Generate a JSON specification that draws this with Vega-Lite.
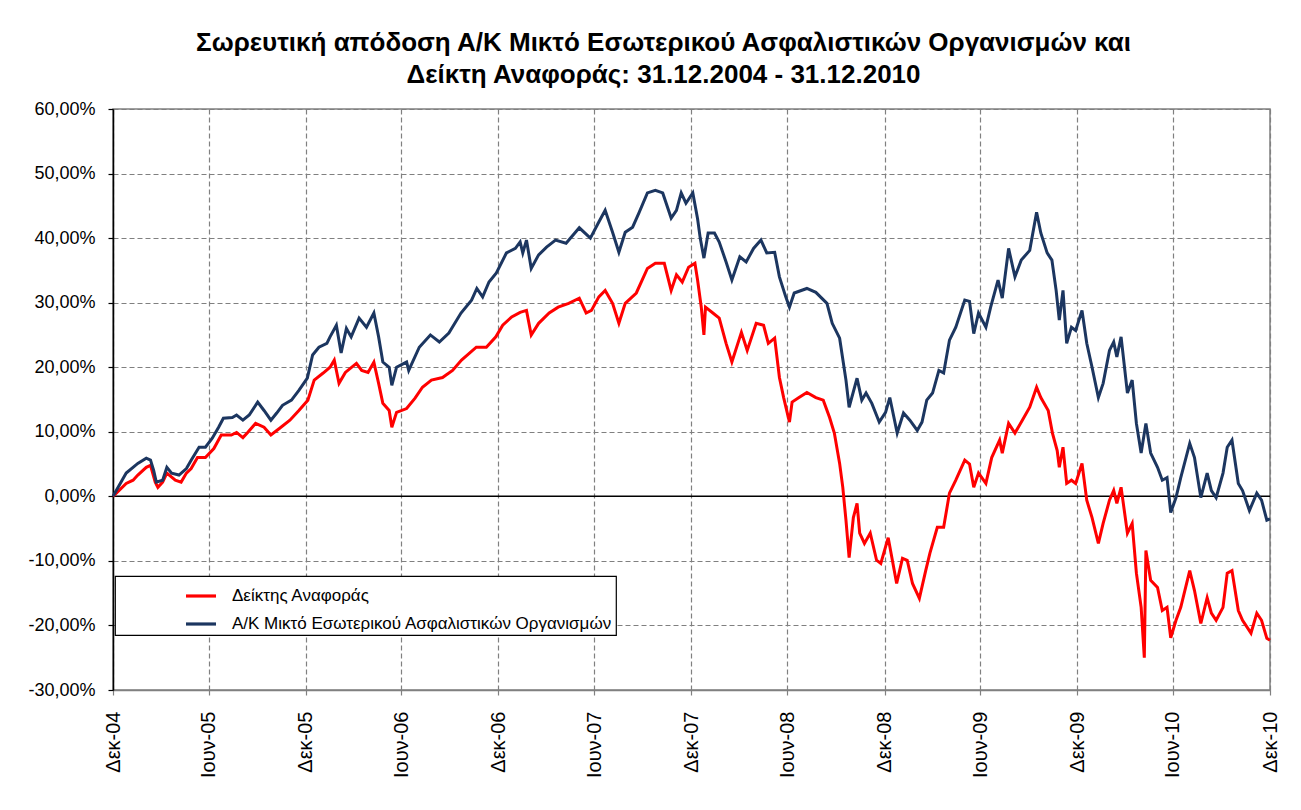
{
  "$schema": "https://vega.github.io/schema/vega-lite/v6.json",
  "autosize": "none",
  "width": 1157,
  "height": 581,
  "padding": {"left": 113, "top": 109, "right": 31, "bottom": 120},
  "background": "#ffffff",
  "title": {
    "text": ["Σωρευτική απόδοση Α/Κ Μικτό Εσωτερικού Ασφαλιστικών Οργανισμών και", "Δείκτη Αναφοράς: 31.12.2004 - 31.12.2010"],
    "font": "Liberation Sans",
    "fontSize": 26,
    "fontWeight": "bold",
    "color": "#000000",
    "anchor": "middle",
    "dx": -28,
    "offset": 12,
    "lineHeight": 32
  },
  "config": {
    "view": {"stroke": "#808080", "strokeWidth": 1.5},
    "axis": {"labelFont": "Liberation Sans", "labelColor": "#000000"},
    "legend": {
      "orient": "none",
      "legendX": 2,
      "legendY": 467,
      "strokeColor": "#000000",
      "strokeWidth": 1.2,
      "fillColor": "#ffffff",
      "padding": 3,
      "symbolType": "stroke",
      "symbolSize": 900,
      "symbolStrokeWidth": 3.2,
      "symbolOffset": 66,
      "labelFont": "Liberation Sans",
      "labelFontSize": 17,
      "labelColor": "#000000",
      "labelOffset": 14,
      "labelLimit": 700,
      "rowPadding": 3
    }
  },
  "datasets": {
    "bench": [
      {"date":"2004-12-31","value":0},{"date":"2005-01-25","value":2.0},{"date":"2005-02-07","value":2.5},{"date":"2005-02-16","value":3.3},{"date":"2005-03-04","value":4.5},{"date":"2005-03-12","value":4.8},{"date":"2005-03-21","value":2.2},{"date":"2005-03-26","value":1.4},{"date":"2005-04-04","value":2.2},{"date":"2005-04-12","value":3.6},{"date":"2005-04-28","value":2.5},{"date":"2005-05-09","value":2.2},{"date":"2005-05-19","value":3.6},{"date":"2005-05-28","value":4.3},{"date":"2005-06-09","value":6.0},{"date":"2005-06-24","value":6.0},{"date":"2005-07-10","value":7.4},{"date":"2005-07-24","value":9.5},{"date":"2005-08-12","value":9.5},{"date":"2005-08-22","value":9.9},{"date":"2005-09-03","value":9.1},{"date":"2005-09-12","value":9.9},{"date":"2005-09-27","value":11.3},{"date":"2005-10-13","value":10.7},{"date":"2005-10-26","value":9.5},{"date":"2005-11-11","value":10.5},{"date":"2005-12-01","value":11.8},{"date":"2005-12-18","value":13.3},
      {"date":"2006-01-04","value":14.9},{"date":"2006-01-16","value":18.0},{"date":"2006-02-02","value":19.1},{"date":"2006-02-15","value":20.0},{"date":"2006-02-23","value":21.1},{"date":"2006-03-04","value":17.5},{"date":"2006-03-16","value":19.2},{"date":"2006-04-06","value":20.6},{"date":"2006-04-16","value":19.5},{"date":"2006-04-28","value":19.2},{"date":"2006-05-09","value":20.8},{"date":"2006-05-18","value":17.5},{"date":"2006-05-26","value":14.4},{"date":"2006-06-07","value":13.3},{"date":"2006-06-12","value":10.7},{"date":"2006-06-21","value":13.0},{"date":"2006-07-10","value":13.6},{"date":"2006-07-26","value":15.2},{"date":"2006-08-09","value":16.9},{"date":"2006-08-26","value":18.0},{"date":"2006-09-16","value":18.4},{"date":"2006-10-05","value":19.5},{"date":"2006-10-22","value":21.1},{"date":"2006-11-19","value":23.1},{"date":"2006-12-08","value":23.1},{"date":"2006-12-26","value":24.7},
      {"date":"2007-01-08","value":26.5},{"date":"2007-01-25","value":27.8},{"date":"2007-02-10","value":28.5},{"date":"2007-02-22","value":28.8},{"date":"2007-03-03","value":25.0},{"date":"2007-03-17","value":26.8},{"date":"2007-04-06","value":28.4},{"date":"2007-04-23","value":29.3},{"date":"2007-05-13","value":29.9},{"date":"2007-06-02","value":30.7},{"date":"2007-06-15","value":28.4},{"date":"2007-06-25","value":28.8},{"date":"2007-07-09","value":30.9},{"date":"2007-07-21","value":31.9},{"date":"2007-08-04","value":29.9},{"date":"2007-08-16","value":26.8},{"date":"2007-08-28","value":29.9},{"date":"2007-09-18","value":31.5},{"date":"2007-10-09","value":35.3},{"date":"2007-10-24","value":36.1},{"date":"2007-11-10","value":36.1},{"date":"2007-11-23","value":31.9},{"date":"2007-12-03","value":34.3},{"date":"2007-12-14","value":33.2},{"date":"2007-12-26","value":35.5},
      {"date":"2008-01-07","value":36.1},{"date":"2008-01-12","value":33.5},{"date":"2008-01-19","value":29.3},{"date":"2008-01-24","value":25.0},{"date":"2008-01-27","value":29.3},{"date":"2008-02-10","value":28.4},{"date":"2008-02-22","value":27.6},{"date":"2008-03-06","value":23.7},{"date":"2008-03-17","value":20.8},{"date":"2008-04-04","value":25.4},{"date":"2008-04-15","value":22.6},{"date":"2008-05-02","value":26.8},{"date":"2008-05-16","value":26.5},{"date":"2008-05-25","value":23.7},{"date":"2008-06-06","value":24.5},{"date":"2008-06-15","value":18.4},{"date":"2008-06-23","value":15.3},{"date":"2008-07-04","value":11.5},{"date":"2008-07-09","value":14.6},{"date":"2008-07-22","value":15.3},{"date":"2008-08-06","value":16.1},{"date":"2008-08-23","value":15.3},{"date":"2008-09-06","value":14.9},{"date":"2008-09-18","value":12.2},{"date":"2008-09-27","value":9.8},{"date":"2008-10-07","value":5.1},{"date":"2008-10-13","value":1.4},{"date":"2008-10-19","value":-3.7},{"date":"2008-10-25","value":-9.5},{"date":"2008-11-02","value":-3.3},{"date":"2008-11-09","value":-1.1},{"date":"2008-11-14","value":-5.7},{"date":"2008-11-23","value":-7.3},{"date":"2008-12-04","value":-5.7},{"date":"2008-12-16","value":-9.9},{"date":"2008-12-24","value":-10.4},
      {"date":"2009-01-07","value":-6.4},{"date":"2009-01-23","value":-13.5},{"date":"2009-02-03","value":-9.6},{"date":"2009-02-12","value":-9.9},{"date":"2009-02-22","value":-13.5},{"date":"2009-03-07","value":-15.8},{"date":"2009-03-19","value":-11.5},{"date":"2009-03-27","value":-8.8},{"date":"2009-04-10","value":-4.8},{"date":"2009-04-22","value":-4.8},{"date":"2009-05-03","value":0.5},{"date":"2009-05-15","value":2.5},{"date":"2009-06-01","value":5.6},{"date":"2009-06-10","value":5.0},{"date":"2009-06-18","value":1.4},{"date":"2009-06-27","value":3.6},{"date":"2009-07-11","value":2.0},{"date":"2009-07-22","value":6.0},{"date":"2009-08-06","value":8.7},{"date":"2009-08-11","value":6.7},{"date":"2009-08-23","value":11.3},{"date":"2009-09-04","value":9.8},{"date":"2009-09-18","value":11.8},{"date":"2009-10-02","value":13.8},{"date":"2009-10-15","value":16.9},{"date":"2009-10-23","value":15.3},{"date":"2009-11-06","value":13.3},{"date":"2009-11-14","value":9.8},{"date":"2009-11-23","value":7.1},{"date":"2009-11-27","value":4.5},{"date":"2009-12-04","value":7.6},{"date":"2009-12-11","value":2.0},{"date":"2009-12-20","value":2.5},{"date":"2009-12-28","value":2.0},
      {"date":"2010-01-09","value":5.1},{"date":"2010-01-18","value":-0.6},{"date":"2010-01-28","value":-3.3},{"date":"2010-02-09","value":-7.3},{"date":"2010-02-18","value":-4.2},{"date":"2010-03-02","value":-0.6},{"date":"2010-03-10","value":0.9},{"date":"2010-03-16","value":-1.1},{"date":"2010-03-24","value":1.4},{"date":"2010-04-05","value":-5.7},{"date":"2010-04-14","value":-4.2},{"date":"2010-04-22","value":-11.9},{"date":"2010-05-01","value":-17.2},{"date":"2010-05-07","value":-25.0},{"date":"2010-05-10","value":-8.4},{"date":"2010-05-19","value":-13.0},{"date":"2010-06-01","value":-14.1},{"date":"2010-06-10","value":-17.7},{"date":"2010-06-19","value":-17.2},{"date":"2010-06-26","value":-21.9},{"date":"2010-07-06","value":-19.2},{"date":"2010-07-15","value":-17.2},{"date":"2010-08-01","value":-11.5},{"date":"2010-08-10","value":-14.6},{"date":"2010-08-22","value":-19.7},{"date":"2010-09-03","value":-15.7},{"date":"2010-09-11","value":-18.1},{"date":"2010-09-20","value":-19.2},{"date":"2010-10-03","value":-17.2},{"date":"2010-10-11","value":-11.9},{"date":"2010-10-20","value":-11.5},{"date":"2010-11-01","value":-17.7},{"date":"2010-11-09","value":-19.2},{"date":"2010-11-25","value":-21.2},{"date":"2010-12-06","value":-18.1},{"date":"2010-12-15","value":-19.2},{"date":"2010-12-25","value":-22.0},{"date":"2010-12-31","value":-22.3}
    ],
    "fund": [
      {"date":"2004-12-31","value":0},{"date":"2005-01-25","value":3.6},{"date":"2005-02-16","value":5.1},{"date":"2005-03-04","value":5.9},{"date":"2005-03-12","value":5.6},{"date":"2005-03-18","value":4.0},{"date":"2005-03-23","value":2.2},{"date":"2005-04-04","value":2.5},{"date":"2005-04-12","value":4.5},{"date":"2005-04-21","value":3.6},{"date":"2005-05-05","value":3.3},{"date":"2005-05-19","value":4.3},{"date":"2005-05-28","value":5.6},{"date":"2005-06-12","value":7.6},{"date":"2005-06-24","value":7.6},{"date":"2005-07-07","value":9.0},{"date":"2005-07-19","value":10.7},{"date":"2005-07-28","value":12.1},{"date":"2005-08-14","value":12.2},{"date":"2005-08-22","value":12.6},{"date":"2005-09-03","value":11.8},{"date":"2005-09-15","value":12.6},{"date":"2005-10-01","value":14.6},{"date":"2005-10-13","value":13.3},{"date":"2005-10-26","value":11.8},{"date":"2005-11-06","value":12.9},{"date":"2005-11-17","value":14.1},{"date":"2005-12-04","value":14.9},{"date":"2005-12-18","value":16.4},
      {"date":"2006-01-03","value":18.3},{"date":"2006-01-13","value":21.9},{"date":"2006-01-25","value":23.1},{"date":"2006-02-09","value":23.7},{"date":"2006-02-15","value":24.7},{"date":"2006-02-27","value":26.5},{"date":"2006-03-08","value":22.2},{"date":"2006-03-18","value":26.0},{"date":"2006-03-27","value":24.7},{"date":"2006-04-11","value":27.6},{"date":"2006-04-25","value":26.2},{"date":"2006-05-09","value":28.4},{"date":"2006-05-18","value":24.7},{"date":"2006-05-26","value":20.8},{"date":"2006-06-07","value":20.0},{"date":"2006-06-12","value":17.2},{"date":"2006-06-21","value":20.0},{"date":"2006-07-10","value":20.8},{"date":"2006-07-14","value":19.5},{"date":"2006-08-03","value":23.1},{"date":"2006-08-24","value":25.0},{"date":"2006-09-10","value":23.9},{"date":"2006-09-28","value":25.3},{"date":"2006-10-21","value":28.4},{"date":"2006-11-10","value":30.4},{"date":"2006-11-20","value":32.2},{"date":"2006-12-01","value":30.9},{"date":"2006-12-13","value":33.2},{"date":"2006-12-27","value":34.6},
      {"date":"2007-01-15","value":37.7},{"date":"2007-02-01","value":38.4},{"date":"2007-02-10","value":39.4},{"date":"2007-02-15","value":37.7},{"date":"2007-02-22","value":39.7},{"date":"2007-03-03","value":35.3},{"date":"2007-03-17","value":37.4},{"date":"2007-04-01","value":38.6},{"date":"2007-04-18","value":39.7},{"date":"2007-05-08","value":39.2},{"date":"2007-06-02","value":41.6},{"date":"2007-06-23","value":40.0},{"date":"2007-07-09","value":42.5},{"date":"2007-07-21","value":44.3},{"date":"2007-08-04","value":40.9},{"date":"2007-08-16","value":37.8},{"date":"2007-08-28","value":40.9},{"date":"2007-09-11","value":41.7},{"date":"2007-09-23","value":43.9},{"date":"2007-10-09","value":47.0},{"date":"2007-10-24","value":47.4},{"date":"2007-11-07","value":47.0},{"date":"2007-11-23","value":43.1},{"date":"2007-12-03","value":44.3},{"date":"2007-12-12","value":47.0},{"date":"2007-12-21","value":45.4},
      {"date":"2008-01-03","value":47.0},{"date":"2008-01-12","value":43.0},{"date":"2008-01-17","value":40.0},{"date":"2008-01-24","value":36.9},{"date":"2008-02-01","value":40.8},{"date":"2008-02-13","value":40.8},{"date":"2008-02-22","value":39.4},{"date":"2008-03-06","value":36.3},{"date":"2008-03-17","value":33.5},{"date":"2008-04-01","value":37.1},{"date":"2008-04-13","value":36.3},{"date":"2008-04-27","value":38.4},{"date":"2008-05-11","value":39.7},{"date":"2008-05-22","value":37.7},{"date":"2008-06-06","value":37.8},{"date":"2008-06-15","value":34.0},{"date":"2008-06-27","value":30.9},{"date":"2008-07-04","value":29.3},{"date":"2008-07-13","value":31.5},{"date":"2008-08-06","value":32.2},{"date":"2008-08-23","value":31.6},{"date":"2008-09-13","value":29.9},{"date":"2008-09-23","value":26.8},{"date":"2008-10-07","value":24.5},{"date":"2008-10-19","value":18.0},{"date":"2008-10-25","value":13.8},{"date":"2008-11-09","value":18.3},{"date":"2008-11-18","value":14.9},{"date":"2008-11-26","value":16.0},{"date":"2008-12-07","value":14.4},{"date":"2008-12-21","value":11.5},
      {"date":"2009-01-02","value":13.0},{"date":"2009-01-10","value":15.3},{"date":"2009-01-24","value":9.8},{"date":"2009-02-05","value":12.9},{"date":"2009-02-17","value":11.8},{"date":"2009-03-03","value":10.2},{"date":"2009-03-12","value":11.5},{"date":"2009-03-21","value":14.9},{"date":"2009-04-01","value":16.0},{"date":"2009-04-13","value":19.5},{"date":"2009-04-22","value":19.1},{"date":"2009-05-03","value":24.2},{"date":"2009-05-15","value":26.2},{"date":"2009-06-01","value":30.4},{"date":"2009-06-10","value":30.2},{"date":"2009-06-18","value":25.2},{"date":"2009-06-27","value":28.4},{"date":"2009-07-11","value":26.2},{"date":"2009-07-20","value":29.3},{"date":"2009-08-03","value":33.5},{"date":"2009-08-11","value":30.7},{"date":"2009-08-23","value":38.4},{"date":"2009-09-04","value":34.0},{"date":"2009-09-16","value":36.6},{"date":"2009-10-02","value":38.1},{"date":"2009-10-15","value":44.0},{"date":"2009-10-23","value":40.8},{"date":"2009-11-04","value":37.7},{"date":"2009-11-13","value":36.6},{"date":"2009-11-21","value":31.9},{"date":"2009-11-27","value":27.3},{"date":"2009-12-04","value":31.9},{"date":"2009-12-11","value":23.7},{"date":"2009-12-20","value":26.2},{"date":"2009-12-28","value":25.7},
      {"date":"2010-01-09","value":28.8},{"date":"2010-01-18","value":23.7},{"date":"2010-01-28","value":20.0},{"date":"2010-02-09","value":15.3},{"date":"2010-02-18","value":17.5},{"date":"2010-03-02","value":22.6},{"date":"2010-03-10","value":23.9},{"date":"2010-03-16","value":21.6},{"date":"2010-03-24","value":24.7},{"date":"2010-04-05","value":16.0},{"date":"2010-04-14","value":18.0},{"date":"2010-04-22","value":11.3},{"date":"2010-05-01","value":6.7},{"date":"2010-05-10","value":11.3},{"date":"2010-05-19","value":6.7},{"date":"2010-06-01","value":4.5},{"date":"2010-06-10","value":2.5},{"date":"2010-06-19","value":2.9},{"date":"2010-06-26","value":-2.5},{"date":"2010-07-06","value":-0.2},{"date":"2010-07-15","value":2.9},{"date":"2010-08-01","value":8.2},{"date":"2010-08-10","value":6.0},{"date":"2010-08-22","value":-0.2},{"date":"2010-09-03","value":3.6},{"date":"2010-09-11","value":0.9},{"date":"2010-09-20","value":-0.2},{"date":"2010-10-03","value":3.6},{"date":"2010-10-11","value":7.6},{"date":"2010-10-20","value":8.7},{"date":"2010-11-01","value":2.0},{"date":"2010-11-09","value":0.9},{"date":"2010-11-22","value":-2.2},{"date":"2010-12-06","value":0.5},{"date":"2010-12-15","value":-0.6},{"date":"2010-12-25","value":-3.7},{"date":"2010-12-31","value":-3.5}
    ]
  },
  "layer": [
    {
      "data": {"values": [{}]},
      "mark": {"type": "rule", "color": "#000000", "strokeWidth": 1.5},
      "encoding": {"y": {"datum": 0, "type": "quantitative"}}
    },
    {
      "data": {"name": "bench"},
      "mark": {"type": "line", "strokeWidth": 3, "interpolate": "linear"},
      "encoding": {
        "x": {
          "field": "date", "type": "temporal",
          "scale": {"type": "utc", "domain": [{"year": 2004, "month": 12, "date": 31, "utc": true}, {"year": 2010, "month": 12, "date": 31, "utc": true}]},
          "axis": {
            "title": null,
            "values": [
              {"year": 2004, "month": 12, "date": 31, "utc": true},
              {"year": 2005, "month": 6, "date": 30, "utc": true},
              {"year": 2005, "month": 12, "date": 31, "utc": true},
              {"year": 2006, "month": 6, "date": 30, "utc": true},
              {"year": 2006, "month": 12, "date": 31, "utc": true},
              {"year": 2007, "month": 6, "date": 30, "utc": true},
              {"year": 2007, "month": 12, "date": 31, "utc": true},
              {"year": 2008, "month": 6, "date": 30, "utc": true},
              {"year": 2008, "month": 12, "date": 31, "utc": true},
              {"year": 2009, "month": 6, "date": 30, "utc": true},
              {"year": 2009, "month": 12, "date": 31, "utc": true},
              {"year": 2010, "month": 6, "date": 30, "utc": true},
              {"year": 2010, "month": 12, "date": 31, "utc": true}
            ],
            "labelExpr": "(utcmonth(datum.value) == 11 ? 'Δεκ-' : 'Ιουν-') + utcFormat(datum.value, '%y')",
            "labelAngle": -90,
            "labelFontSize": 20,
            "labelPadding": 16,
            "labelBound": false,
            "labelOverlap": false,
            "labelFlush": false,
            "grid": true,
            "gridColor": "#808080",
            "gridDash": [5, 3],
            "gridWidth": 1.2,
            "domainColor": "#808080",
            "domainWidth": 1.5,
            "tickColor": "#808080",
            "tickSize": 5,
            "tickWidth": 1.2
          }
        },
        "y": {
          "field": "value", "type": "quantitative",
          "scale": {"domain": [-30, 60], "nice": false, "zero": false},
          "axis": {
            "title": null,
            "values": [-30, -20, -10, 0, 10, 20, 30, 40, 50, 60],
            "labelExpr": "(datum.value < 0 ? '-' : '') + replace(format(abs(datum.value), '.2f'), '.', ',') + '%'",
            "labelFontSize": 18,
            "labelPadding": 13,
            "grid": true,
            "gridColor": "#808080",
            "gridDash": [5, 3],
            "gridWidth": 1.2,
            "domainColor": "#000000",
            "domainWidth": 1.5,
            "tickColor": "#000000",
            "tickSize": 5,
            "tickWidth": 1.2
          }
        },
        "color": {
          "datum": "Δείκτης Αναφοράς",
          "type": "nominal",
          "scale": {"domain": ["Δείκτης Αναφοράς", "Α/Κ Μικτό Εσωτερικού Ασφαλιστικών Οργανισμών"], "range": ["#ff0000", "#1c3660"]},
          "legend": {"title": null}
        }
      }
    },
    {
      "data": {"name": "fund"},
      "mark": {"type": "line", "strokeWidth": 3, "interpolate": "linear"},
      "encoding": {
        "x": {"field": "date", "type": "temporal"},
        "y": {"field": "value", "type": "quantitative"},
        "color": {"datum": "Α/Κ Μικτό Εσωτερικού Ασφαλιστικών Οργανισμών", "type": "nominal"}
      }
    }
  ]
}
